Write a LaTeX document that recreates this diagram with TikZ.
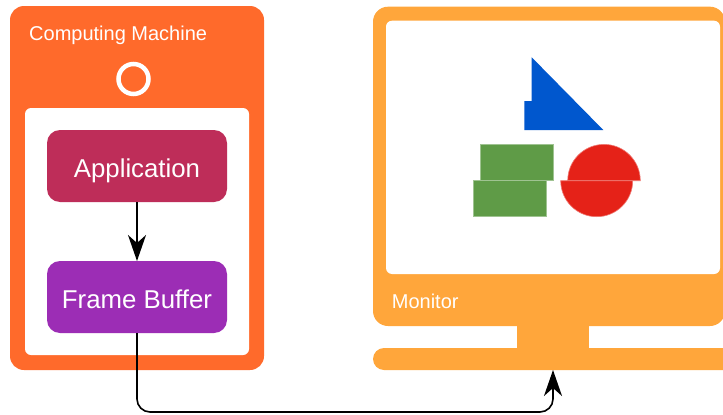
\documentclass[tikz,border=0pt]{standalone}
\usepackage{fontspec}
\setmainfont{Liberation Sans}
\usetikzlibrary{arrows.meta}
\definecolor{cmorange}{HTML}{FF6A2B}
\definecolor{monorange}{HTML}{FFA63B}
\definecolor{appred}{HTML}{BE2D59}
\definecolor{fbpurple}{HTML}{9C2DB5}
\definecolor{shblue}{HTML}{0057CE}
\definecolor{shgreen}{HTML}{5F9B47}
\definecolor{shred}{HTML}{E52218}
\begin{document}
\begin{tikzpicture}[x=1pt,y=-1pt,
  panel/.style={rectangle, draw=none, inner sep=0pt, outer sep=0pt, anchor=north west},
  procbox/.style={panel, rounded corners=13pt, minimum width=180pt, minimum height=72pt,
    text=white, font=\fontsize{25.8}{28}\selectfont, text height=22pt, text depth=0pt},
  title/.style={anchor=base west, inner sep=0pt, text=white, font=\fontsize{20}{22}\selectfont},
  conn/.style={line width=1.6pt, -{Stealth[length=26pt,width=18pt,inset=8pt]}},
  shape edge/.style={line width=0.6pt}]
\useasboundingbox (0,0) rectangle (723,415);
\clip (0,0) rectangle (723,415);

% Computing machine
\node[panel, fill=cmorange, rounded corners=14pt, minimum width=254pt, minimum height=364pt] (cm) at (10,6) {};
\node[panel, fill=white, rounded corners=6pt, minimum width=224pt, minimum height=247pt] (cmin) at (25,108) {};
\node[circle, draw=white, line width=4.5pt, minimum size=30pt, inner sep=0pt] (ring) at (133.5,79) {};
\node[title] (cmlabel) at (29,40.7) {Computing Machine};
\node[procbox, fill=appred] (app) at (47,130) {Application};
\node[procbox, fill=fbpurple] (fb) at (47,261) {Frame Buffer};
\draw[conn] (app.south) -- (fb.north);

% Monitor
\node[panel, fill=monorange, rounded corners=15pt, minimum width=352pt, minimum height=319.3pt] (mon) at (373,6.7) {};
\node[panel, fill=white, rounded corners=6pt, minimum width=334pt, minimum height=253.3pt] (screen) at (386,20.7) {};
\node[panel, fill=monorange, minimum width=72pt, minimum height=24pt] (neck) at (517,325) {};
\node[panel, fill=monorange, rounded corners=11pt, minimum width=380pt, minimum height=22pt] (base) at (373,348) {};
\node[title] (monlabel) at (391.7,308) {Monitor};

% shapes on screen
\fill[shblue] (531.7,57.3) -- (531.7,101) -- (524.3,101) -- (524.3,130) -- (603.3,130) -- cycle;
\filldraw[shape edge, fill=shgreen, draw=shgreen!60!white] (480.7,144.3) rectangle (553.3,180.7);
\filldraw[shape edge, fill=shgreen, draw=shgreen!60!white] (473.3,180.7) rectangle (546,216.7);
\filldraw[shape edge, fill=shred, draw=shred!60!white] (567.7,180.7) arc[start angle=180, end angle=360, radius=36.3] -- cycle;
\filldraw[shape edge, fill=shred, draw=shred!60!white] (560.7,180.7) arc[start angle=180, end angle=0, radius=36] -- cycle;

% connector
\coordinate (bend) at (137,412);
\coordinate (monin) at (553,370);
\draw[conn, rounded corners=13pt] (fb.south) -- (bend) -| (monin);
\end{tikzpicture}
\end{document}
